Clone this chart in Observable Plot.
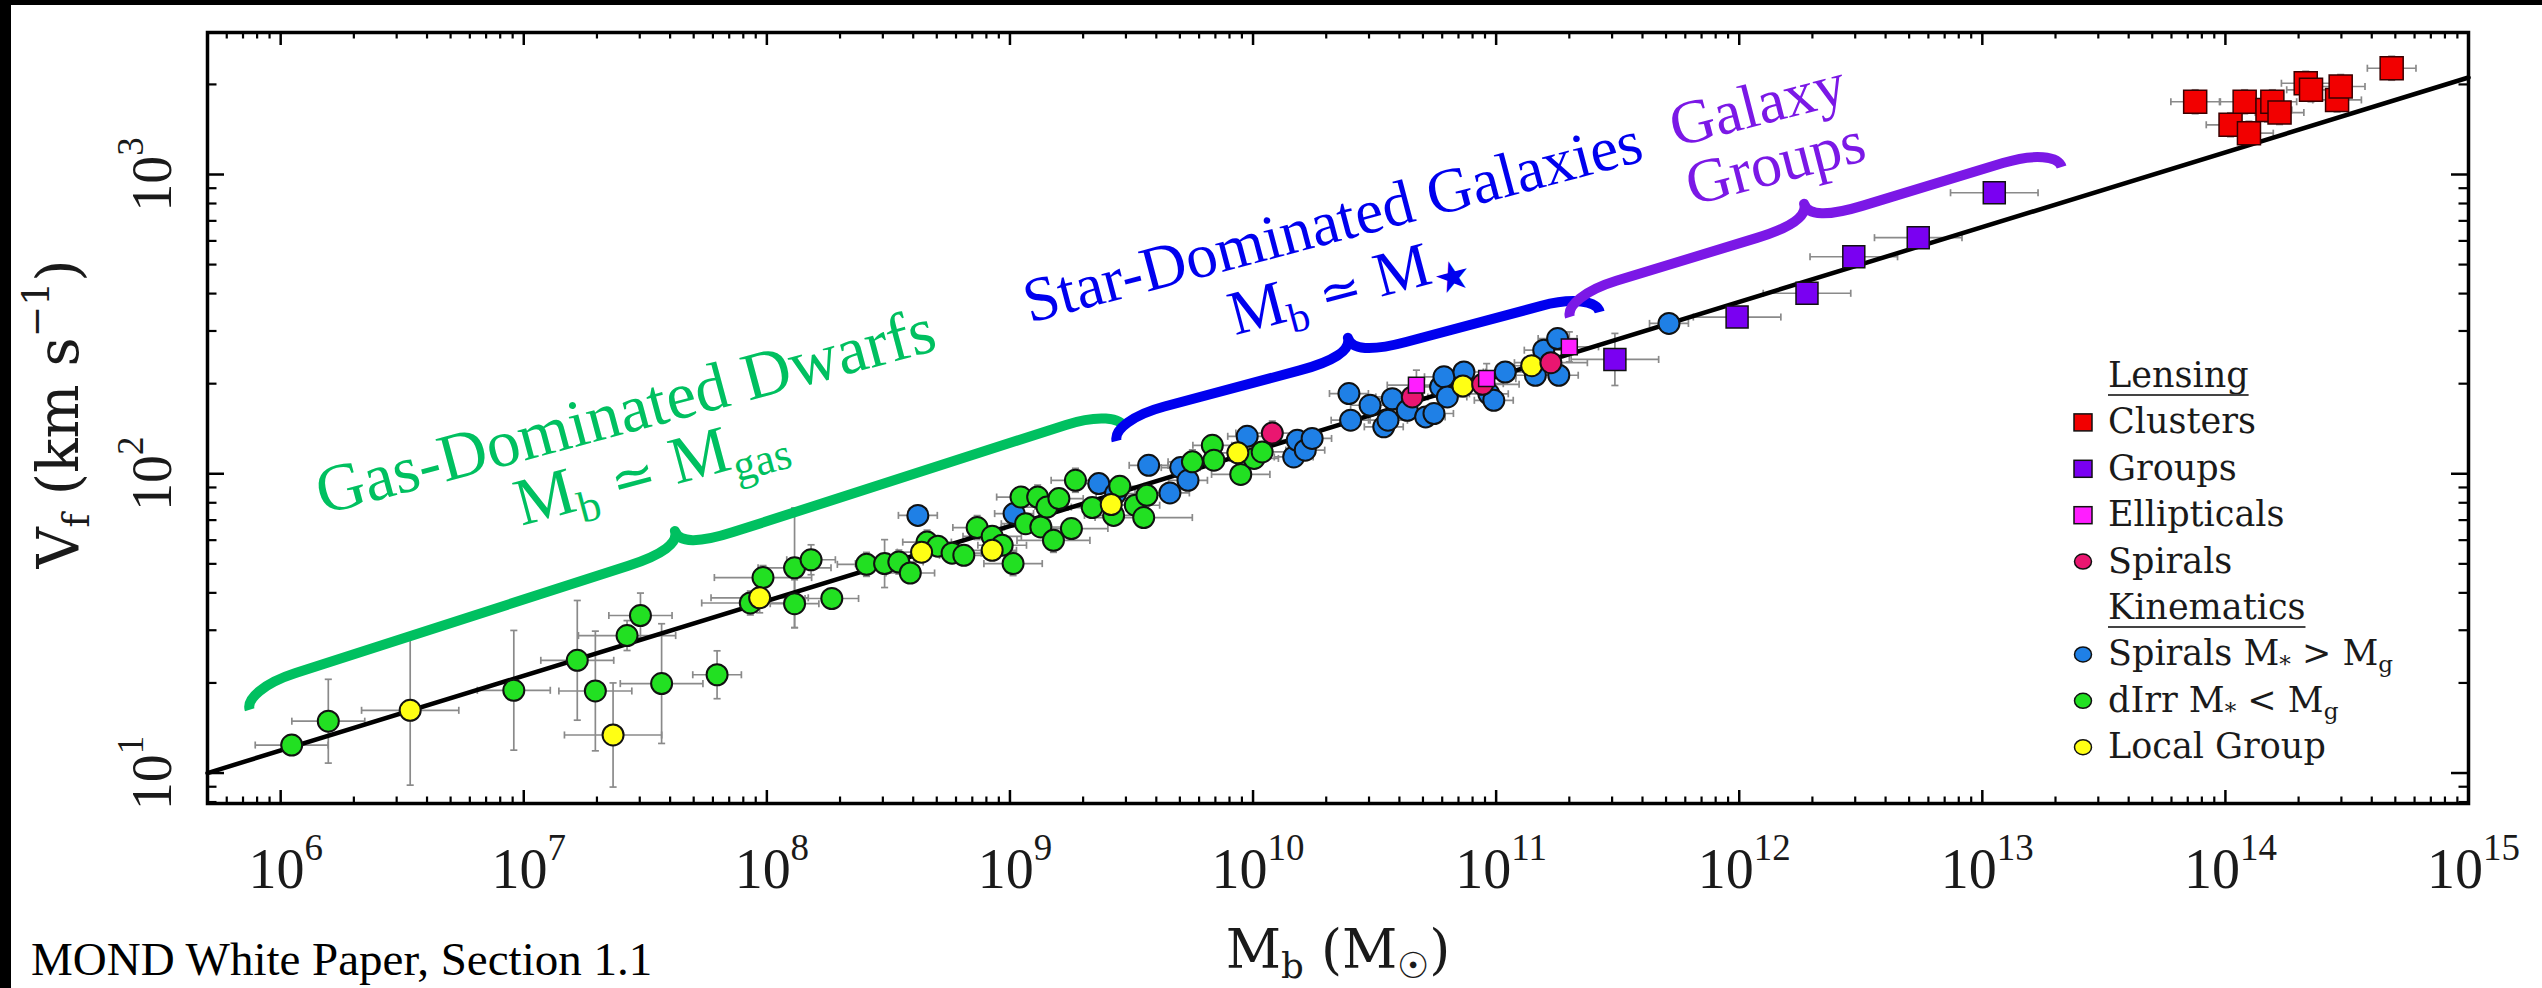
<!DOCTYPE html>
<html>
<head>
<meta charset="utf-8">
<script src="https://cdn.jsdelivr.net/npm/d3@7"></script>
<script src="https://cdn.jsdelivr.net/npm/@observablehq/plot@0.6"></script>
<style>
  html, body { margin: 0; padding: 0; background: #fff; }
  #page { position: relative; width: 2542px; height: 988px; overflow: hidden; background: #fff; }
  #page > svg { position: absolute; left: 0; top: 0; }
  .bar { position: absolute; background: #000; z-index: 5; }
  #caption { position: absolute; left: 31px; top: 936px; font-family: "Liberation Serif", serif; font-size: 47px; line-height: 47px; color: #000; white-space: nowrap; }
</style>
</head>
<body>
<div id="page"></div>
<script>
// ---------------- DATA ----------------
// Kinematics: gas-dominated dwarf irregulars (dIrr, M* < Mg)
const dIrrMass = [1.11e6, 1.57e6, 9.1e6, 1.66e7, 1.97e7, 2.66e7, 3.02e7, 3.69e7, 6.24e7, 8.55e7,
  9.64e7, 1.30e8, 1.30e8, 1.52e8, 1.85e8, 2.57e8, 3.05e8, 3.49e8, 3.89e8, 4.56e8,
  5.05e8, 5.78e8, 6.46e8, 7.33e8, 8.45e8, 9.29e8, 1.03e9, 1.11e9, 1.16e9, 1.30e9,
  1.34e9, 1.42e9, 1.51e9, 1.59e9, 1.79e9, 1.86e9, 2.18e9, 2.67e9, 2.83e9, 3.28e9,
  3.55e9, 3.66e9, 5.63e9, 6.8e9, 6.9e9, 8.9e9, 1.01e10, 1.09e10];
const dIrrVel = [12.4, 14.9, 18.9, 23.8, 18.8, 28.8, 33.6, 19.9, 21.3, 37.0,
  45.0, 36.8, 48.5, 51.6, 38.3, 49.8, 50.1, 50.7, 46.6, 59.1,
  57.3, 54.3, 53.4, 66.1, 61.8, 57.7, 50.1, 83.6, 68.1, 83.6,
  66.4, 77.4, 59.9, 82.6, 65.6, 95.1, 77.1, 72.6, 90.8, 78.5,
  71.4, 84.7, 109.6, 124.5, 111, 99.5, 112.5, 118.3];
const dIrrMassErr = [0.15, 0.15, 0.15, 0.15, 0.15, 0.2, 0.13, 0.17, 0.1, 0.2,
  0.2, 0.1, 0.15, 0.1, 0.11, 0.12, 0.12, 0.1, 0.1, 0.1,
  0.08, 0.12, 0.1, 0.1, 0.12, 0.1, 0.12, 0.1, 0.1, 0.08,
  0.15, 0.1, 0.15, 0.1, 0.15, 0.1, 0.1, 0.12, 0.1, 0.1,
  0.2, 0.1, 0.1, 0.08, 0.1, 0.12, 0.1, 0.1];
const dIrrVelErr = [0, 0.14, 0.2, 0.2, 0.2, 0.05, 0.075, 0.2, 0.08, 0.04,
  0.04, 0.08, 0.2, 0.05, 0.03, 0.04, 0.08, 0.04, 0.03, 0.04,
  0.03, 0.03, 0.03, 0.04, 0.03, 0.03, 0.04, 0.03, 0.03, 0.04,
  0.03, 0.03, 0.04, 0.03, 0.03, 0.04, 0.03, 0.03, 0.03, 0.03,
  0.03, 0.03, 0.04, 0.03, 0.03, 0.03, 0.03, 0.03];

// Kinematics: Local Group
const localMass = [3.41e6, 2.33e7, 9.34e7, 4.33e8, 8.45e8, 2.61e9, 8.66e9, 7.3e10, 1.4e11];
const localVel = [16.2, 13.4, 38.5, 54.7, 55.5, 78.9, 117.5, 196.6, 229.6];
const localMassErr = [0.2, 0.2, 0.2, 0.1, 0.1, 0.1, 0.1, 0.1, 0.1];
const localVelErr = [0.25, 0.174, 0.05, 0.03, 0.03, 0.03, 0.03, 0.03, 0.03];

// Kinematics: star-dominated spirals (M* > Mg)
const spiralMass = [4.18e8, 1.04e9, 2.32e9, 2.72e9, 3.72e9, 4.55e9, 5.04e9, 5.4e9, 9.46e9, 1.47e10,
  1.52e10, 1.64e10, 1.75e10, 2.48e10, 2.52e10, 3.03e10, 3.45e10, 3.59e10, 3.74e10, 4.31e10,
  5.13e10, 5.55e10, 5.91e10, 6.1e10, 6.3e10, 7.37e10, 8.9e10, 9.33e10, 9.78e10, 1.09e11,
  1.45e11, 1.57e11, 1.79e11, 1.81e11, 5.14e11];
const spiralVel = [72.6, 73.6, 92.7, 85.9, 106.7, 86.3, 104.9, 95.1, 133.4, 113.8,
  129.4, 119.9, 131.2, 185.4, 151, 169.4, 143.5, 151, 178.2, 162.9,
  154.9, 159, 195, 210.9, 180.6, 218.8, 200, 185, 176, 218.8,
  213.4, 258.8, 283, 213.4, 318];
const spiralMassErr = 0.08, spiralVelErr = 0.03;

// Lensing
const lensSpiralMass = [1.2e10, 4.52e10, 8.8e10, 1.68e11];
const lensSpiralVel = [136.8, 180.6, 199, 235];
const ellipticalMass = [4.7e10, 9.14e10, 2.0e11];
const ellipticalVel = [197.8, 208, 265.5];
const groupMass = [3.08e11, 9.8e11, 1.9e12, 2.96e12, 5.45e12, 1.12e13];
const groupVel = [241, 334, 401, 531, 615, 869];
const groupVelErr = [0.087, 0.03, 0.03, 0.03, 0.03, 0.03];
const clusterMass = [7.51e13, 1.05e14, 1.2e14, 1.25e14, 1.49e14, 1.56e14, 1.67e14, 2.14e14, 2.25e14, 2.88e14, 2.98e14, 4.83e14];
const clusterVel = [1750, 1466, 1750, 1374, 1643, 1750, 1611, 2018, 1919, 1775, 1968, 2265];

// Baryonic Tully-Fisher relation (M = 50 V^4) end points
const btfrMass = [5e5, 1e15];
const btfrVel = [10.0, 2109];

// Axis ticks and labels
const xTickExps = [6, 7, 8, 9, 10, 11, 12, 13, 14, 15];
const yTickExps = [1, 2, 3];
const xTitle = "M_{b} (M_{☉})";
const yTitle = "V_{f} (km s^{−1})";
const captionText = "MOND White Paper, Section 1.1";

// Annotation braces (start / end in data units)
const braceM0 = [7.49e5, 2.76e9, 2.02e11];
const braceV0 = [16.2, 128.2, 332.9];
const braceM1 = [2.98e9, 2.68e11, 2.13e13];
const braceV1 = [141.6, 345.9, 1055];

// Annotation labels
const gasLabels = ["Gas-Dominated Dwarfs", "M_{b} ≃ M_{gas}"];
const gasLabelMass = [2.76e7, 3.50e7];
const gasLabelVel = [137.7, 88.5];
const starLabels = ["Star-Dominated Galaxies", "M_{b} ≃ M_{★}"];
const starLabelMass = [2.23e10, 2.58e10];
const starLabelVel = [597, 369];
const groupLabels = ["Galaxy", "Groups"];
const groupLabelMass = [1.245e12, 1.476e12];
const groupLabelVel = [1469, 940];

// Legend
const legendLabels = ["Lensing", "Clusters", "Groups", "Ellipticals", "Spirals", "Kinematics",
  "Spirals M_{*} > M_{g}", "dIrr M_{*} < M_{g}", "Local Group"];
const legendHeader = [true, false, false, false, false, true, false, false, false];
const legendSymbol = [null, "square", "square", "square", "circle", null, "circle", "circle", "circle"];

// ---------------- STYLE ----------------
const C = {
  green: "#22e022", yellow: "#ffff14", blue: "#1f80e6", crimson: "#ea1670",
  magenta: "#ff1eff", purple: "#7a00f2", red: "#f20000",
  gasText: "#00c060", starText: "#0000ee", groupText: "#7b18e6", err: "#8a8a8a"
};
const legendColors = [null, C.red, C.purple, C.magenta, C.crimson, null, C.blue, C.green, C.yellow];

const W = 2542, H = 988;
const mTop = 32, mBottom = 185, mLeft = 207, mRight = 74;
const frameW = W - mLeft - mRight, frameH = H - mTop - mBottom;
const NS = "http://www.w3.org/2000/svg";

function records(cat, M, V, ex, ey) {
  return M.map((m, i) => {
    const a = Array.isArray(ex) ? ex[i] : ex;
    const b = Array.isArray(ey) ? ey[i] : ey;
    return {cat, M: m, V: V[i], Mlo: m / 10 ** a, Mhi: m * 10 ** a, Vlo: V[i] / 10 ** b, Vhi: V[i] * 10 ** b, ex: a, ey: b};
  });
}
const dIrr = records("dIrr", dIrrMass, dIrrVel, dIrrMassErr, dIrrVelErr);
const local = records("local", localMass, localVel, localMassErr, localVelErr);
const spirals = records("spiral", spiralMass, spiralVel, spiralMassErr, spiralVelErr);
const lensSpirals = records("lensSpiral", lensSpiralMass, lensSpiralVel, 0.15, 0.04);
const ellipticals = records("elliptical", ellipticalMass, ellipticalVel, 0.12, 0.05);
const groups = records("group", groupMass, groupVel, 0.18, groupVelErr);
const clusters = records("cluster", clusterMass, clusterVel, 0.1, 0.04);
const allPoints = [...spirals, ...dIrr, ...local, ...lensSpirals, ...ellipticals, ...groups, ...clusters];
const errX = allPoints.filter(d => d.ex > 0);
const errY = allPoints.filter(d => d.ey > 0);
const btfr = btfrMass.map((m, i) => ({M: m, V: btfrVel[i]}));

// tick positions
const xMajor = xTickExps.map(e => 10 ** e);
const xMinor = [];
for (let e = 5; e < 15; e++) for (let k = 2; k <= 9; k++) { const v = k * 10 ** e; if (v > 5e5 && v < 1e15) xMinor.push(v); }
const yMajor = yTickExps.map(e => 10 ** e);
const yMinor = [];
for (let e = 0; e < 4; e++) for (let k = 2; k <= 9; k++) { const v = k * 10 ** e; if (v > 7.91 && v < 2950) yMinor.push(v); }

// error bar caps as custom symbols
const capV = {draw(ctx, size) { const h = Math.sqrt(size) / 2; ctx.moveTo(0, -h); ctx.lineTo(0, h); }};
const capH = {draw(ctx, size) { const h = Math.sqrt(size) / 2; ctx.moveTo(-h, 0); ctx.lineTo(h, 0); }};

// curly brace path in pixel space
function bracePath(p0, p1, q, h, a, b) {
  const dx = p1[0] - p0[0], dy = p1[1] - p0[1], L = Math.hypot(dx, dy);
  const d = [dx / L, dy / L], n = [d[1], -d[0]];
  const P = (u, v) => [p0[0] + u * d[0] + v * n[0], p0[1] + u * d[1] + v * n[1]];
  const m = L / 2;
  const segs = [
    ["M", P(0, 0)],
    ["C", P(0, q * 0.55), P(a * 0.4, q), P(a, q)],
    ["L", P(m - b, q)],
    ["C", P(m - b * 0.35, q), P(m, q * 1.3), P(m, h)],
    ["C", P(m, q * 1.3), P(m + b * 0.35, q), P(m + b, q)],
    ["L", P(L - a, q)],
    ["C", P(L - a * 0.4, q), P(L, q * 0.55), P(L, 0)]
  ];
  return segs.map(([c, ...pts]) => c + pts.map(p => p[0].toFixed(1) + "," + p[1].toFixed(1)).join(" ")).join("");
}
const braceColors = [C.gasText, C.starText, C.groupText];
function braceMark(index, scales) {
  const g = document.createElementNS(NS, "g");
  braceM0.forEach((m0, i) => {
    const p0 = [scales.x(m0), scales.y(braceV0[i])];
    const p1 = [scales.x(braceM1[i]), scales.y(braceV1[i])];
    const path = document.createElementNS(NS, "path");
    path.setAttribute("d", bracePath(p0, p1, 21, 40, 55, 55));
    path.setAttribute("fill", "none");
    path.setAttribute("stroke", braceColors[i]);
    path.setAttribute("stroke-width", 10);
    path.setAttribute("stroke-linejoin", "round");
    g.appendChild(path);
  });
  return g;
}

const dotStroke = "#111";
const labelData = (T, M, V) => T.map((t, i) => ({t, M: M[i], V: V[i]}));

const chart = Plot.plot({
  width: W, height: H,
  marginTop: mTop, marginBottom: mBottom, marginLeft: mLeft, marginRight: mRight,
  x: {type: "log", domain: [5e5, 1e15], axis: null},
  y: {type: "log", domain: [7.91, 2982], axis: null},
  style: {background: "transparent", overflow: "visible"},
  marks: [
    // error bars
    Plot.link(errX, {x1: "Mlo", x2: "Mhi", y1: "V", y2: "V", stroke: C.err, strokeWidth: 1.7}),
    Plot.link(errY, {x1: "M", x2: "M", y1: "Vlo", y2: "Vhi", stroke: C.err, strokeWidth: 1.7}),
    Plot.dot(errX, {x: "Mlo", y: "V", symbol: capV, r: 4, fill: "none", stroke: C.err, strokeWidth: 1.7}),
    Plot.dot(errX, {x: "Mhi", y: "V", symbol: capV, r: 4, fill: "none", stroke: C.err, strokeWidth: 1.7}),
    Plot.dot(errY, {x: "M", y: "Vlo", symbol: capH, r: 4, fill: "none", stroke: C.err, strokeWidth: 1.7}),
    Plot.dot(errY, {x: "M", y: "Vhi", symbol: capH, r: 4, fill: "none", stroke: C.err, strokeWidth: 1.7}),
    // BTFR
    Plot.line(btfr, {x: "M", y: "V", stroke: "#000", strokeWidth: 4.5}),
    // points
    Plot.dot(spirals, {x: "M", y: "V", r: 10.5, fill: C.blue, stroke: dotStroke, strokeWidth: 2}),
    Plot.dot(dIrr, {x: "M", y: "V", r: 10.5, fill: C.green, stroke: dotStroke, strokeWidth: 2}),
    Plot.dot(local, {x: "M", y: "V", r: 10.5, fill: C.yellow, stroke: dotStroke, strokeWidth: 2}),
    Plot.dot(lensSpirals, {x: "M", y: "V", r: 10.5, fill: C.crimson, stroke: dotStroke, strokeWidth: 2}),
    Plot.dot(ellipticals, {x: "M", y: "V", symbol: "square", r: 9, fill: C.magenta, stroke: dotStroke, strokeWidth: 1.5}),
    Plot.dot(groups, {x: "M", y: "V", symbol: "square", r: 12.4, fill: C.purple, stroke: dotStroke, strokeWidth: 1.5}),
    Plot.dot(clusters, {x: "M", y: "V", symbol: "square", r: 13, fill: C.red, stroke: "#3a0000", strokeWidth: 1.5}),
    // braces
    braceMark,
    // annotation labels
    Plot.text(labelData(gasLabels, gasLabelMass, gasLabelVel), {x: "M", y: "V", text: "t", rotate: -15,
      fill: C.gasText, fontSize: 67, fontFamily: "Liberation Serif", textAnchor: "middle", lineAnchor: "bottom"}),
    Plot.text(labelData(starLabels, starLabelMass, starLabelVel), {x: "M", y: "V", text: "t", rotate: -14.8,
      fill: C.starText, fontSize: 63, fontFamily: "Liberation Serif", textAnchor: "middle", lineAnchor: "bottom"}),
    Plot.text(labelData(groupLabels, groupLabelMass, groupLabelVel), {x: "M", y: "V", text: "t", rotate: -14.5,
      fill: C.groupText, fontSize: 62, fontFamily: "Liberation Serif", textAnchor: "middle", lineAnchor: "bottom"}),
    // ticks (inward, on all four sides)
    Plot.tickX(xMajor, {x: d => d, insetTop: frameH - 13, stroke: "#000", strokeWidth: 2.5}),
    Plot.tickX(xMajor, {x: d => d, insetBottom: frameH - 13, stroke: "#000", strokeWidth: 2.5}),
    Plot.tickX(xMinor, {x: d => d, insetTop: frameH - 6.5, stroke: "#000", strokeWidth: 2.2}),
    Plot.tickX(xMinor, {x: d => d, insetBottom: frameH - 6.5, stroke: "#000", strokeWidth: 2.2}),
    Plot.tickY(yMajor, {y: d => d, insetRight: frameW - 17, stroke: "#000", strokeWidth: 2.5}),
    Plot.tickY(yMajor, {y: d => d, insetLeft: frameW - 17, stroke: "#000", strokeWidth: 2.5}),
    Plot.tickY(yMinor, {y: d => d, insetRight: frameW - 9.5, stroke: "#000", strokeWidth: 2.2}),
    Plot.tickY(yMinor, {y: d => d, insetLeft: frameW - 9.5, stroke: "#000", strokeWidth: 2.2}),
    // tick labels
    Plot.text(xTickExps, {x: e => 10 ** e, text: e => `10^{${e}}`, frameAnchor: "bottom", dy: 84, dx: 5,
      fontSize: 56, fontFamily: "Liberation Serif", fill: "#1a1a1a", textAnchor: "middle", lineAnchor: "bottom"}),
    Plot.text(yTickExps, {y: e => 10 ** e, text: e => `10^{${e}}`, frameAnchor: "left", dx: -37, rotate: -90,
      fontSize: 56, fontFamily: "Liberation Serif", fill: "#1a1a1a", textAnchor: "middle", lineAnchor: "bottom"}),
    // axis titles
    Plot.text([xTitle], {text: d => d, frameAnchor: "bottom", dy: 164, fontSize: 54, fontFamily: "DejaVu Serif",
      fill: "#1a1a1a", textAnchor: "middle", lineAnchor: "bottom"}),
    Plot.text([yTitle], {text: d => d, frameAnchor: "left", dx: -130, dy: -4, rotate: -90, fontSize: 57, fontFamily: "DejaVu Serif",
      fill: "#1a1a1a", textAnchor: "middle", lineAnchor: "bottom"}),
    Plot.frame({stroke: "#000", strokeWidth: 3.5})
  ]
});

const page = document.getElementById("page");
page.appendChild(chart);

// legend overlay
const leg = d3.create("svg").attr("width", W).attr("height", H)
  .style("position", "absolute").style("left", 0).style("top", 0).style("pointer-events", "none");
const legX = 2108, legMarkX = 2083, legBase0 = 387, legStep = 46.4;
legendLabels.forEach((lab, i) => {
  const base = legBase0 + i * legStep;
  const t = leg.append("text").attr("x", legX).attr("y", base)
    .attr("font-family", "DejaVu Serif").attr("font-size", 35).attr("fill", "#1a1a1a").text(lab);
  if (legendHeader[i]) t.attr("data-header", "1");
  const sym = legendSymbol[i];
  if (sym === "square") {
    leg.append("rect").attr("x", legMarkX - 9).attr("y", base - 11 - 8.5).attr("width", 18).attr("height", 17)
      .attr("fill", legendColors[i]).attr("stroke", "#111").attr("stroke-width", 1.5);
  } else if (sym === "circle") {
    leg.append("ellipse").attr("cx", legMarkX).attr("cy", base - 11).attr("rx", 8.5).attr("ry", 7.5)
      .attr("fill", legendColors[i]).attr("stroke", "#111").attr("stroke-width", 1.5);
  }
});
page.appendChild(leg.node());

// rich text: sub/superscripts
function richify(root) {
  for (const t of root.querySelectorAll("text")) {
    const s = t.textContent;
    if (!/[_^]\{/.test(s)) continue;
    const F = parseFloat(getComputedStyle(t).fontSize) || 16;
    const parts = [...s.matchAll(/([_^])\{([^}]*)\}|([^_^]+)/g)];
    while (t.firstChild) t.removeChild(t.firstChild);
    let cur = 0;
    for (const p of parts) {
      const ts = document.createElementNS(NS, "tspan");
      let off = 0;
      if (p[1] === "_") { off = 0.2 * F; ts.setAttribute("font-size", 0.66 * F); ts.textContent = p[2]; }
      else if (p[1] === "^") { off = -0.5 * F; ts.setAttribute("font-size", 0.66 * F); ts.textContent = p[2]; }
      else if (p[3].includes("≃")) {
        // render the relation sign a bit narrower, as in the original typesetting
        const [a, b] = p[3].split("≃");
        const t1 = document.createElementNS(NS, "tspan"); t1.textContent = a;
        if (cur !== 0) t1.setAttribute("dy", (-cur).toFixed(2));
        cur = 0;
        const t2 = document.createElementNS(NS, "tspan"); t2.textContent = "≃"; t2.setAttribute("font-size", 0.8 * F);
        const t3 = document.createElementNS(NS, "tspan"); t3.textContent = b;
        t.appendChild(t1); t.appendChild(t2); t.appendChild(t3);
        continue;
      }
      else ts.textContent = p[3];
      if (off !== cur) ts.setAttribute("dy", (off - cur).toFixed(2));
      cur = off;
      t.appendChild(ts);
    }
  }
}
richify(chart);
richify(leg.node());

// legend header underlines
leg.selectAll("text[data-header]").each(function () {
  const w = this.getComputedTextLength();
  const y = +this.getAttribute("y") + 8;
  leg.append("line").attr("x1", legX).attr("x2", legX + w).attr("y1", y).attr("y2", y)
    .attr("stroke", "#444").attr("stroke-width", 2);
});

// caption
const capDiv = document.createElement("div");
capDiv.id = "caption";
capDiv.textContent = captionText;
page.appendChild(capDiv);

// scan border (black bands at top and left)
const barTop = document.createElement("div");
barTop.className = "bar"; barTop.style.cssText = "left:0;top:0;width:2542px;height:5px;";
const barLeft = document.createElement("div");
barLeft.className = "bar"; barLeft.style.cssText = "left:0;top:0;width:11px;height:988px;";
page.appendChild(barTop); page.appendChild(barLeft);
</script>
</body>
</html>
